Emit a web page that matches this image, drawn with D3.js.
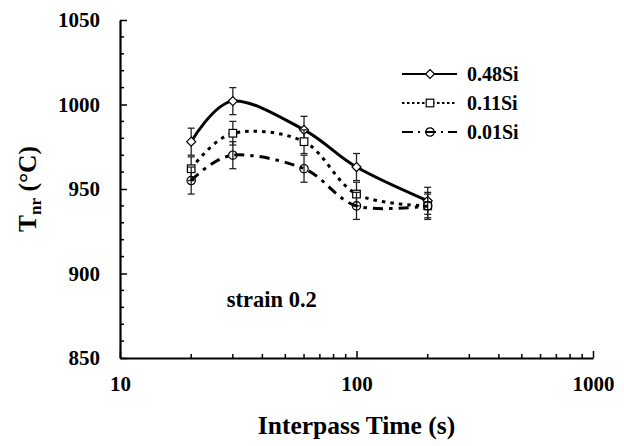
<!DOCTYPE html>
<html lang="en">
<head>
<meta charset="UTF-8">
<title>Tnr vs interpass time</title>
<script src="https://cdn.jsdelivr.net/npm/d3@7"></script>
<style>
  body { margin: 0; background: #fff; overflow: hidden; }
  svg { display: block; }
  text { font-family: "Liberation Serif", "Times New Roman", serif; font-weight: bold; fill: #000; }
</style>
</head>
<body>
<svg id="mainsvg" width="624" height="446"></svg>
<script>
// interpass times (s)
const times = [20, 30, 60, 100, 200]
const seriesNames = ['0.48Si', '0.11Si', '0.01Si']
const tnr048 = [978, 1002, 985, 963, 943]
const tnr011 = [962, 983, 978, 947, 940]
const tnr001 = [955, 970, 962, 940, 940]
const err048 = [8, 8, 8, 8, 8]
const err011 = [7, 7, 7, 7, 7]
const err001 = [8, 8, 8, 8, 8]
const xTicks = [10, 100, 1000]
const yTicks = [850, 900, 950, 1000, 1050]

const svg = d3.select('#mainsvg')
const margin = {top: 20, right: 31, bottom: 88, left: 120}
const width = +svg.attr('width')
const height = +svg.attr('height')
const innerWidth = width - margin.left - margin.right
const innerHeight = height - margin.top - margin.bottom

const x = d3.scaleLog().domain([10, 1000]).range([0, innerWidth])
const y = d3.scaleLinear().domain([850, 1050]).range([innerHeight, 0])

const g = svg.append('g').attr('transform', `translate(${margin.left},${margin.top})`)

// minor ticks
const xMinor = []
for (let d = 10; d < 1000; d *= 10) for (let k = 2; k <= 9; k++) xMinor.push(d * k)
const yMinor = d3.range(860, 1050, 10).filter(v => v % 50 !== 0)

g.selectAll('.xminor').data(xMinor).join('line')
  .attr('x1', d => x(d)).attr('x2', d => x(d))
  .attr('y1', innerHeight).attr('y2', innerHeight - 4)
  .attr('stroke', '#000').attr('stroke-width', 1.5)
g.selectAll('.yminor').data(yMinor).join('line')
  .attr('x1', 0).attr('x2', 4)
  .attr('y1', d => y(d)).attr('y2', d => y(d))
  .attr('stroke', '#000').attr('stroke-width', 1.5)

const xAxis = d3.axisBottom(x).tickValues(xTicks).tickFormat(d3.format('d'))
  .tickSizeInner(-7).tickSizeOuter(0).tickPadding(18)
const yAxis = d3.axisLeft(y).tickValues(yTicks).tickFormat(d3.format('d'))
  .tickSizeInner(-7).tickSizeOuter(0).tickPadding(20)

const gx = g.append('g').attr('transform', `translate(0,${innerHeight})`).call(xAxis)
const gy = g.append('g').call(yAxis)
;[gx, gy].forEach(a => {
  a.select('.domain').attr('stroke-width', 2.2)
  a.selectAll('.tick line').attr('stroke-width', 1.5)
  a.selectAll('.tick text').attr('font-size', 21)
})

// axis titles
svg.append('text').text('Interpass Time (s)')
  .attr('x', margin.left + innerWidth / 2).attr('y', 434)
  .attr('text-anchor', 'middle').attr('font-size', 25.5)
const yt = svg.append('text')
  .attr('transform', `translate(36,${margin.top + innerHeight / 2}) rotate(-90)`)
  .attr('text-anchor', 'middle').attr('font-size', 25.5)
yt.append('tspan').text('T')
yt.append('tspan').text('nr').attr('font-size', 17).attr('dy', 5)
yt.append('tspan').text(' (°C)').attr('dy', -5)

// annotation
g.append('text').text('strain 0.2')
  .attr('x', x(28.3)).attr('y', y(880))
  .attr('font-size', 22.5)

const series = [
  {name: seriesNames[0], vals: tnr048, err: err048, dash: null, marker: 'diamond'},
  {name: seriesNames[1], vals: tnr011, err: err011, dash: '3.5,5', marker: 'square'},
  {name: seriesNames[2], vals: tnr001, err: err001, dash: '10,6,3.5,6', marker: 'circle'}
]

const line = d3.line().curve(d3.curveCardinal.tension(0))
  .x(d => x(d.t)).y(d => y(d.v))

function drawMarker(sel, type) {
  if (type === 'diamond') {
    sel.append('path').attr('d', 'M0,-4.5L4.5,0L0,4.5L-4.5,0Z')
      .attr('fill', '#fff').attr('stroke', '#000').attr('stroke-width', 1.2)
  } else if (type === 'square') {
    sel.append('rect').attr('x', -3.8).attr('y', -3.8).attr('width', 7.6).attr('height', 7.6)
      .attr('fill', '#fff').attr('stroke', '#000').attr('stroke-width', 1.2)
  } else {
    sel.append('circle').attr('r', 4.2)
      .attr('fill', 'none').attr('stroke', '#000').attr('stroke-width', 1.2)
  }
}

series.forEach(s => {
  const pts = times.map((t, i) => ({t, v: s.vals[i], e: s.err[i]}))
  // error bars
  const eb = g.append('g').attr('stroke', '#222').attr('stroke-width', 1.3)
  pts.forEach(p => {
    eb.append('line').attr('x1', x(p.t)).attr('x2', x(p.t))
      .attr('y1', y(p.v - p.e)).attr('y2', y(p.v + p.e))
    ;[p.v - p.e, p.v + p.e].forEach(v => {
      eb.append('line').attr('x1', x(p.t) - 3.5).attr('x2', x(p.t) + 3.5)
        .attr('y1', y(v)).attr('y2', y(v))
    })
  })
  g.append('path').datum(pts).attr('d', line)
    .attr('fill', 'none').attr('stroke', '#000').attr('stroke-width', 3)
    .attr('stroke-dasharray', s.dash)
  pts.forEach(p => {
    drawMarker(g.append('g').attr('transform', `translate(${x(p.t)},${y(p.v)})`), s.marker)
  })
})

// legend
const legend = svg.append('g').attr('transform', 'translate(402,74)')
series.forEach((s, i) => {
  const row = legend.append('g').attr('transform', `translate(0,${i * 29})`)
  row.append('line').attr('x1', 0).attr('x2', 55).attr('y1', 0).attr('y2', 0)
    .attr('stroke', '#000').attr('stroke-width', 2.2)
    .attr('stroke-dasharray', i === 1 ? '2.5,2.5' : i === 2 ? '11,5,2,5' : null)
  drawMarker(row.append('g').attr('transform', 'translate(28,0)'), s.marker)
  row.append('text').text(s.name).attr('x', 65).attr('y', 7).attr('font-size', 20)
})
</script>
</body>
</html>
